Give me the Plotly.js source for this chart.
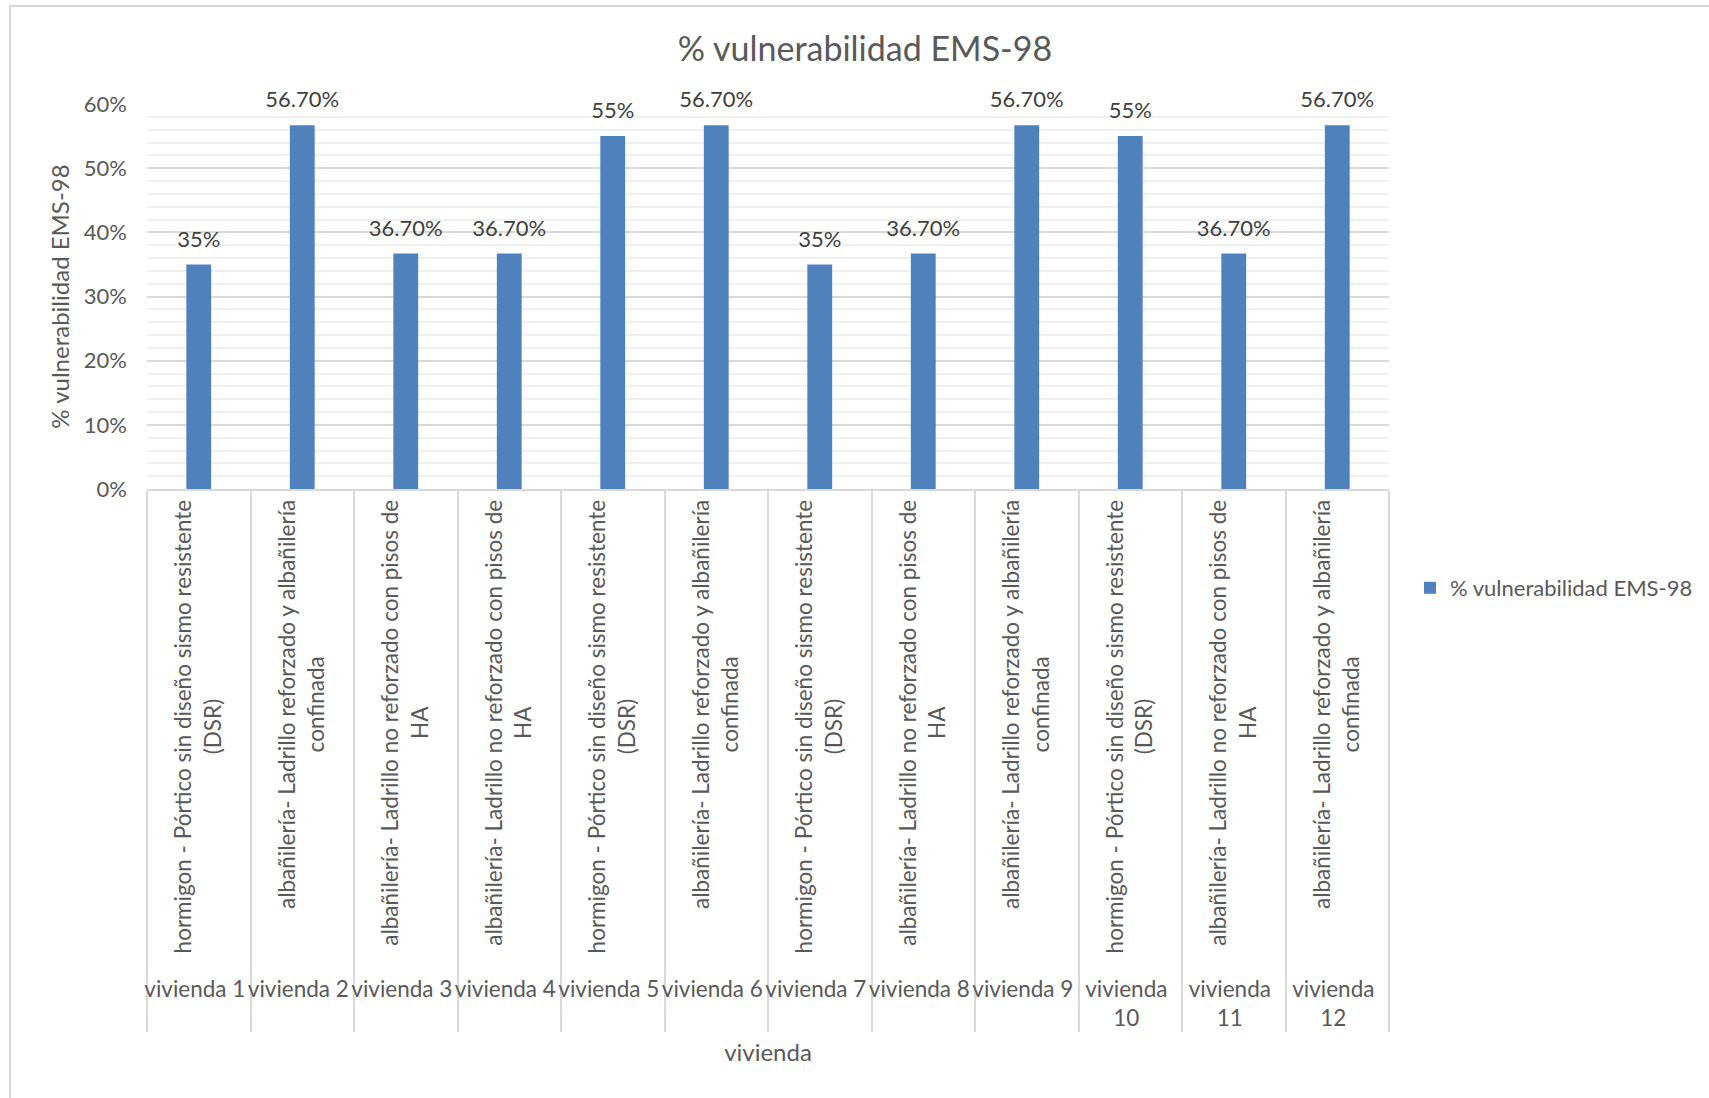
<!DOCTYPE html>
<html>
<head>
<meta charset="utf-8">
<script src="https://cdn.plot.ly/plotly-3.0.1.min.js"></script>
<style>
  html, body { margin: 0; padding: 0; background: #ffffff; overflow: hidden; }
  #frame { position: absolute; left: 9px; top: 5px; width: 1720px; height: 1120px;
           border-top: 2px solid #d9d9d9; border-left: 2px solid #d9d9d9; box-sizing: border-box; pointer-events: none; }
  #chart { position: absolute; left: 0; top: 0; width: 1709px; height: 1098px; }
</style>
</head>
<body>
<div id="chart"></div>
<div id="frame"></div>
<script>
// ---- data ----
var viviendas = ["vivienda 1", "vivienda 2", "vivienda 3", "vivienda 4", "vivienda 5", "vivienda 6",
                 "vivienda 7", "vivienda 8", "vivienda 9", "vivienda<br>10", "vivienda<br>11", "vivienda<br>12"];
var tipologias = [
  "hormigon - Pórtico sin diseño sismo resistente<br>(DSR)",
  "albañilería- Ladrillo reforzado y albañilería<br>confinada",
  "albañilería- Ladrillo no reforzado con pisos de<br>HA",
  "albañilería- Ladrillo no reforzado con pisos de<br>HA",
  "hormigon - Pórtico sin diseño sismo resistente<br>(DSR)",
  "albañilería- Ladrillo reforzado y albañilería<br>confinada",
  "hormigon - Pórtico sin diseño sismo resistente<br>(DSR)",
  "albañilería- Ladrillo no reforzado con pisos de<br>HA",
  "albañilería- Ladrillo reforzado y albañilería<br>confinada",
  "hormigon - Pórtico sin diseño sismo resistente<br>(DSR)",
  "albañilería- Ladrillo no reforzado con pisos de<br>HA",
  "albañilería- Ladrillo reforzado y albañilería<br>confinada"
];
var vulnerabilidad = [0.35, 0.567, 0.367, 0.367, 0.55, 0.567, 0.35, 0.367, 0.567, 0.55, 0.367, 0.567];
var etiquetas = ["35%", "56.70%", "36.70%", "36.70%", "55%", "56.70%", "35%", "36.70%", "56.70%", "55%", "36.70%", "56.70%"];
var serieNombre = "% vulnerabilidad EMS-98";
var tituloGrafico = "% vulnerabilidad EMS-98";
var tituloX = "vivienda";
var tituloY = "% vulnerabilidad EMS-98";

// ---- chart ----
var FONT = "Lato, 'Open Sans', sans-serif";
var W = 1709, H = 1098;
var plotL = 147, plotR = 1390, plotT = 104, plotB = 489;

var barras = {
  type: "bar",
  name: serieNombre,
  x: [viviendas, tipologias],
  y: vulnerabilidad,
  marker: { color: "#4f81bd" },
  showlegend: true,
  hoverinfo: "x+y"
};

// data labels, drawn at the bar tops through the same axes
var rotulos = {
  type: "scatter",
  mode: "markers+text",
  x: [viviendas, tipologias],
  y: vulnerabilidad,
  text: etiquetas,
  textposition: "top center",
  textfont: { family: FONT, size: 22, color: "#404040" },
  marker: { size: 18, opacity: 0, color: "#4f81bd" },
  cliponaxis: false,
  showlegend: false,
  hoverinfo: "skip"
};

var layout = {
  width: W, height: H,
  margin: { l: plotL, r: W - plotR, t: plotT, b: H - plotB, pad: 0 },
  paper_bgcolor: "#ffffff",
  plot_bgcolor: "#ffffff",
  font: { family: FONT, color: "#595959", size: 22 },
  bargap: 0.76,
  hovermode: "closest",
  title: {
    text: tituloGrafico,
    font: { family: FONT, size: 34, color: "#595959" },
    xref: "container", x: 865 / W, xanchor: "center",
    yref: "container", y: 1 - 49 / H, yanchor: "middle"
  },
  xaxis: {
    type: "multicategory",
    range: [-0.5, viviendas.length - 0.5],
    tickangle: -90,
    tickfont: { family: FONT, size: 22.5, color: "#595959" },
    showline: true, linecolor: "#d9d9d9", linewidth: 1.5,
    showdividers: true, dividercolor: "#d9d9d9", dividerwidth: 1.5,
    ticks: "",
    showgrid: false,
    automargin: false,
    title: { text: tituloX, font: { family: FONT, size: 24, color: "#595959" }, standoff: 14 }
  },
  yaxis: {
    range: [0, 0.6],
    dtick: 0.1,
    tickformat: ".0%",
    tickfont: { family: FONT, size: 22, color: "#595959" },
    ticklabelstandoff: 19,
    showgrid: true, gridcolor: "#d9d9d9", gridwidth: 1.5,
    minor: { dtick: 0.02, showgrid: true, gridcolor: "#f0f0f0", gridwidth: 1.5, ticks: "" },
    zeroline: false,
    showline: false,
    ticks: "",
    automargin: false,
    title: { text: tituloY, font: { family: FONT, size: 24, color: "#595959" }, standoff: 7 }
  },
  legend: {
    x: (1410 - plotL) / (plotR - plotL), xanchor: "left",
    y: (plotB - 588) / (plotB - plotT), yanchor: "middle",
    font: { family: FONT, size: 22, color: "#595959" },
    bgcolor: "rgba(0,0,0,0)"
  }
};

// centre the wrapped lines of the rotated category labels (as in the original)
function centrarLineas() {
  var textos = document.querySelectorAll("#chart .xtick text");
  textos.forEach(function (t) {
    var lineas = t.querySelectorAll("tspan.line");
    if (lineas.length < 2 || t.getAttribute("data-centrado")) return;
    if (t.getAttribute("text-anchor") !== "end") return;
    var maxLen = 0;
    lineas.forEach(function (l) { maxLen = Math.max(maxLen, l.getComputedTextLength()); });
    lineas.forEach(function (l) {
      var x0 = parseFloat(l.getAttribute("x") || t.getAttribute("x") || 0);
      l.setAttribute("x", x0 - maxLen / 2);
    });
    t.setAttribute("text-anchor", "middle");
    t.setAttribute("data-centrado", "1");
  });
}

Plotly.newPlot("chart", [barras, rotulos], layout, { displayModeBar: false, responsive: false })
  .then(centrarLineas);
</script>
</body>
</html>
